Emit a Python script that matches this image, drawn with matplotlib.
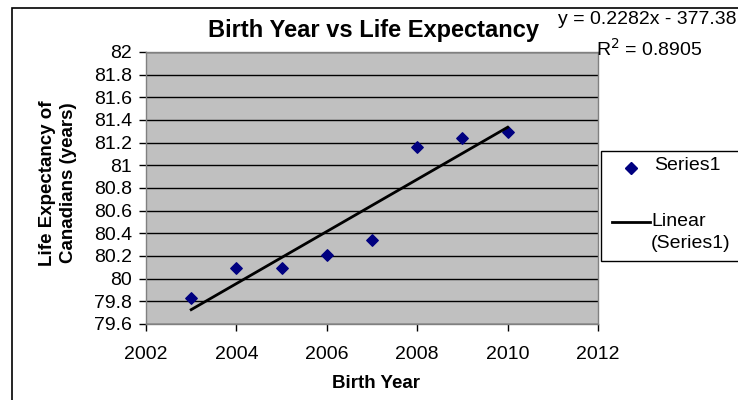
import matplotlib
matplotlib.use("Agg")
import matplotlib.pyplot as plt
from matplotlib.lines import Line2D
from matplotlib.patches import Rectangle
import numpy as np

plt.rcParams['font.family'] = ['Liberation Sans', 'DejaVu Sans']

years = [2003, 2004, 2005, 2006, 2007, 2008, 2009, 2010]
life_exp = [79.83, 80.09, 80.09, 80.21, 80.34, 81.16, 81.24, 81.29]
x_ticks = [2002, 2004, 2006, 2008, 2010, 2012]
y_ticks = [79.6, 79.8, 80, 80.2, 80.4, 80.6, 80.8, 81, 81.2, 81.4, 81.6, 81.8, 82]
y_tick_labels = ["79.6", "79.8", "80", "80.2", "80.4", "80.6", "80.8", "81",
                 "81.2", "81.4", "81.6", "81.8", "82"]

W, H = 738, 400
FS = 14
fig = plt.figure(figsize=(W / 100, H / 100), dpi=100)
fig.patch.set_facecolor('white')

# outer chart border
fig.patches.append(Rectangle((12 / W, -0.01), 1.2, (H - 8) / H + 0.01, transform=fig.transFigure,
                             fill=False, edgecolor='black', linewidth=1.2, zorder=0))

left, right, top, bottom = 146, 598, 52, 324
ax = fig.add_axes([left / W, 1 - bottom / H, (right - left) / W, (bottom - top) / H])
ax.set_facecolor('#C0C0C0')

ax.set_xlim(2002, 2012)
ax.set_ylim(79.6, 82)
ax.set_xticks(x_ticks)
ax.set_xticklabels([str(t) for t in x_ticks])
ax.set_yticks(y_ticks)
ax.set_yticklabels(y_tick_labels)
ax.tick_params(direction='out', length=5, width=1, labelsize=FS, colors='black', pad=5)
ax.tick_params(axis='x', pad=11)
ax.yaxis.grid(True, color='black', linewidth=1)
ax.set_axisbelow(True)
for s in ['top', 'right', 'left', 'bottom']:
    ax.spines[s].set_color('#808080')
    ax.spines[s].set_linewidth(1)

ax.scatter(years, life_exp, marker='D', s=34, color='#000080', zorder=3, clip_on=False)

coef = np.polyfit(years, life_exp, 1)
xs = np.array([years[0], years[-1]])
ax.plot(xs, np.polyval(coef, xs), color='black', linewidth=2, zorder=4)

fig.text(374 / W, 1 - 30 / H, "Birth Year vs Life Expectancy", ha='center', va='center',
         fontsize=17, fontweight='bold')
fig.text(736 / W, 1 - 19 / H, "y = 0.2282x - 377.38", ha='right', va='center', fontsize=FS)
fig.text(596 / W, 1 - 49 / H, "R$^2$ = 0.8905", ha='left', va='center', fontsize=FS)

fig.text(376 / W, 1 - 383 / H, "Birth Year", ha='center', va='center',
         fontsize=13.5, fontweight='bold')
fig.text(58 / W, 1 - 183 / H, "Life Expectancy of\nCanadians (years)", ha='center', va='center',
         rotation=90, fontsize=13.5, fontweight='bold', linespacing=1.35)

# legend box
fig.patches.append(Rectangle((601 / W, 1 - 261 / H), 200 / W, 110 / H, transform=fig.transFigure,
                             fill=True, facecolor='white', edgecolor='black', linewidth=1, zorder=5))
fig.lines.append(Line2D([631 / W], [1 - 168 / H], transform=fig.transFigure, marker='D',
                        markersize=6, color='#000080', linestyle='none', zorder=6))
fig.text(654 / W, 1 - 166 / H, "Series1", ha='left', va='center', fontsize=FS, zorder=6)
fig.lines.append(Line2D([612 / W, 650 / W], [1 - 222 / H, 1 - 222 / H], transform=fig.transFigure,
                        color='black', linewidth=2, zorder=6))
fig.text(651 / W, 1 - 221 / H, "Linear", ha='left', va='center', fontsize=FS, zorder=6)
fig.text(651 / W, 1 - 244 / H, "(Series1)", ha='left', va='center', fontsize=FS, zorder=6)

fig.savefig("out.png", dpi=100)
